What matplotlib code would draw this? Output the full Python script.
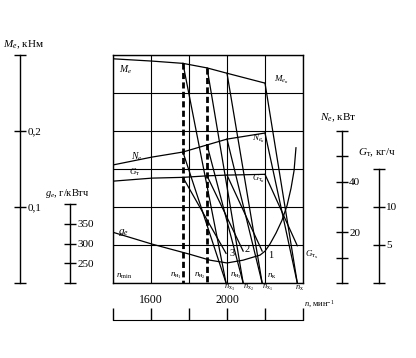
import numpy as np
import matplotlib.pyplot as plt

plt.rcParams['font.family'] = ['Liberation Serif', 'DejaVu Serif']
plt.rcParams['mathtext.fontset'] = 'custom'
plt.rcParams['mathtext.rm'] = 'Liberation Serif'
plt.rcParams['mathtext.it'] = 'Liberation Serif:italic'

# внешняя скоростная характеристика (частота вращения, мин^-1)
n_ext = [1400, 1605, 1768, 1895, 2000, 2200]
Me_ext = [0.295, 0.292, 0.289, 0.283, 0.276, 0.263]   # кНм
Ne_ext = [46.6, 49.7, 51.7, 54.5, 56.8, 59.2]         # кВт
Gt_ext = [13.4, 13.8, 13.9, 14.1, 14.2, 14.3]         # кг/ч

# удельный расход топлива, г/кВтч
n_ge = [1400, 1489, 1605, 1805, 1911, 2000, 2084, 2174, 2200, 2226, 2258,
        2289, 2316, 2337, 2353, 2363]
ge = [329, 316, 299, 273, 258, 251, 258, 271, 281, 299, 327, 359, 397, 441,
      486, 544]

# регуляторные ветви: n_н1, n_н2, n_н3, n_к -> n_x3, n_x2, n_x1, n_x
n_start = [1768, 1895, 2000, 2200]
n_idle = [1995, 2085, 2185, 2370]
Gt_idle = [3.9, 4.2, 4.2, 4.9]

W, H = 416, 358


def box(x0, y0, x1, y1):
    return [x0 / W, 1 - y1 / H, (x1 - x0) / W, (y1 - y0) / H]


def txt(x, y, s, size=6.5, **kw):
    fig.text(x / W, 1 - y / H, s, fontsize=size, va='center', ha='left', **kw)


fig = plt.figure(figsize=(4.16, 3.58), dpi=100)

ax = fig.add_axes(box(113, 55, 303, 283))
ax.set_xlim(1400, 2400)
ax.set_ylim(0, 0.3)
ax.set_xticks(np.arange(1400, 2401, 200))
ax.set_yticks(np.arange(0, 0.31, 0.05))
ax.grid(color='k', lw=0.8)
ax.tick_params(length=0, labelbottom=False, labelleft=False)
for s in ax.spines.values():
    s.set_linewidth(1.0)

ax_ne = ax.twinx()
ax_ne.set_ylim(0, 90)
ax_gt = ax.twinx()
ax_gt.set_ylim(0, 30)
ax_ge = ax.twinx()
ax_ge.set_ylim(200, 780)
for a in (ax_ne, ax_gt, ax_ge):
    a.axis('off')

lw = 0.9
ax.plot(n_ext, Me_ext, 'k', lw=lw)
ax_ne.plot(n_ext, Ne_ext, 'k', lw=lw)
ax_gt.plot(n_ext, Gt_ext, 'k', lw=lw)
ax_ge.plot(n_ge, ge, 'k', lw=lw)

for i in range(4):
    ax.plot([n_start[i], n_idle[i]], [Me_ext[i + 2], 0], 'k', lw=lw)
    ax_ne.plot([n_start[i], n_idle[i]], [Ne_ext[i + 2], 0], 'k', lw=lw)
    ax_gt.plot([n_start[i], n_idle[i]], [Gt_ext[i + 2], Gt_idle[i]], 'k', lw=lw)

for i in range(2):
    ax.plot([n_start[i], n_start[i]], [Me_ext[i + 2], 0], 'k',
            lw=2, ls=(0, (2.2, 1.2)))


def scale_axis(x, y_top, y_bot, lim, ticks, labels):
    a = fig.add_axes([x / W, 1 - y_bot / H, 0.0005, (y_bot - y_top) / H])
    a.set_ylim(lim)
    a.set_xticks([])
    a.patch.set_visible(False)
    for s in ['top', 'right', 'bottom']:
        a.spines[s].set_visible(False)
    a.spines['left'].set_linewidth(1.0)
    a.set_yticks(ticks)
    a.set_yticklabels(labels)
    a.tick_params(axis='y', direction='inout', length=8, width=1, left=True,
                  right=False, labelleft=False, labelright=True,
                  labelsize=8, pad=1)
    return a


scale_axis(20, 55, 283, (0, 0.3), [0, 0.1, 0.2, 0.3], ['', '0,1', '0,2', ''])
scale_axis(70, 204, 283, (200, 400), [200, 250, 300, 350, 400],
           ['', '250', '300', '350', ''])
scale_axis(342, 131, 283, (0, 60), np.arange(0, 61, 10),
           ['', '', '20', '', '40', '', ''])
scale_axis(379, 169, 283, (0, 15), [0, 5, 10, 15], ['', '5', '10', ''])

ax_n = fig.add_axes([113 / W, 1 - 320 / H, 190 / W, 0.0005])
ax_n.set_xlim(1400, 2400)
ax_n.set_yticks([])
ax_n.patch.set_visible(False)
for s in ['top', 'right', 'left']:
    ax_n.spines[s].set_visible(False)
ax_n.set_xticks(np.arange(1400, 2401, 200))
ax_n.set_xticklabels(['', '1600', '', '2000', '', ''])
ax_n.tick_params(axis='x', direction='in', length=9, width=1, bottom=True,
                 top=False, labelbottom=False, labeltop=True, labelsize=8.5,
                 pad=10)

# подписи осей
txt(3, 45, r'$M_e$, кНм', 8)
txt(45, 193, r'$g_e$, г/кВтч', 7.5)
txt(320, 118, r'$N_e$, кВт', 8)
txt(358, 153, r'$G_{\rm т}$, кг/ч', 8)
txt(304, 304, r'$n$, мин$^{-1}$', 6)

# подписи кривых
txt(119, 70, r'$M_e$', 7)
txt(274, 80, r'$M_{e_{\rm н}}$', 6.5)
txt(131, 157, r'$N_e$', 7)
txt(252, 139, r'$N_{e_{\rm н}}$', 6.5)
txt(129, 172, r'$G_{\rm т}$', 6.5)
txt(252, 179, r'$G_{{\rm т}_{\rm н}}$', 6)
txt(118, 232, r'$g_e$', 8)
txt(305, 255, r'$G_{{\rm т}_{\rm х}}$', 6.5)
txt(229, 254, '3', 7.5)
txt(245, 250, '2', 7.5)
txt(268, 255, '1', 7.5)

txt(116, 276, r'$n_{\rm min}$', 6.5)
txt(170, 276, r'$n_{{\rm н}_1}$', 6.5)
txt(194, 276, r'$n_{{\rm н}_2}$', 6.5)
txt(230, 276, r'$n_{{\rm н}_3}$', 6.5)
txt(267, 276, r'$n_{\rm к}$', 6.5)
txt(224, 288, r'$n_{{\rm x}_3}$', 6)
txt(243, 288, r'$n_{{\rm x}_2}$', 6)
txt(262, 288, r'$n_{{\rm x}_1}$', 6)
txt(295, 288, r'$n_{\rm x}$', 6)

fig.savefig('out.png', dpi=100)
